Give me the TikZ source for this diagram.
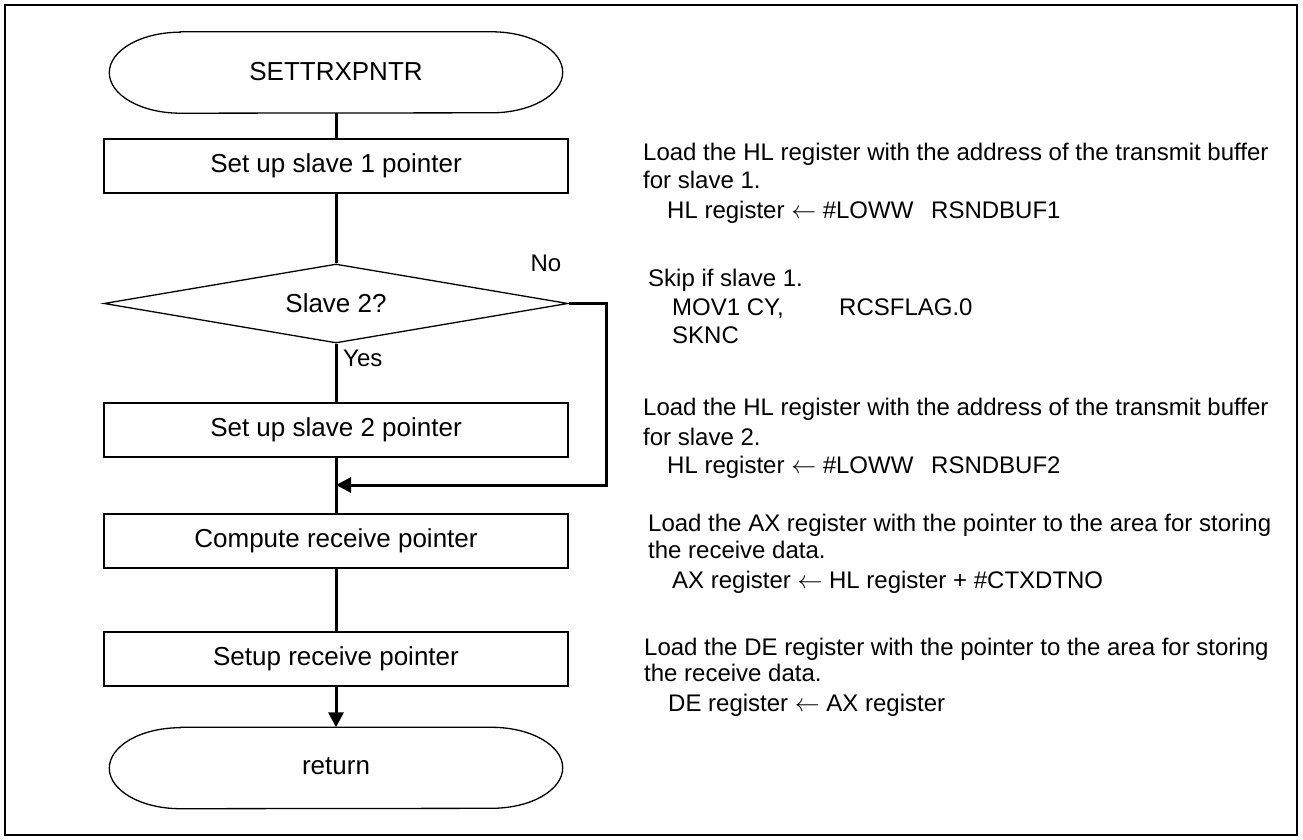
\documentclass[tikz,border=0pt]{standalone}
\usepackage{fontspec}
\setmainfont{Liberation Sans}
\usetikzlibrary{shapes.geometric,arrows.meta}
\newcommand{\termoutline}[1]{%
  \draw[line width=1.3pt] ([xshift=71pt]#1.north west) -- ([xshift=-71pt]#1.north east)
    arc[start angle=90, end angle=-90, x radius=71pt, y radius=40.5pt]
    -- ([xshift=71pt]#1.south west)
    arc[start angle=270, end angle=90, x radius=71pt, y radius=40.5pt] -- cycle;}
\begin{document}
\begin{tikzpicture}[x=1pt,y=-1pt,
  every node/.style={font=\fontsize{26pt}{30pt}\selectfont, inner sep=0pt},
  term/.style={rectangle, minimum width=453pt, minimum height=81pt},
  proc/.style={rectangle, draw, line width=1.3pt, minimum width=464pt, minimum height=54pt},
  dec/.style={diamond, aspect=5.87, draw, line width=1.3pt, minimum width=464pt, minimum height=79pt},
  conn/.style={line width=3pt},
  arr/.style={conn, -{Triangle[length=15pt,width=15pt]}},
  note/.style={anchor=base west, font=\fontsize{24pt}{28pt}\selectfont},
  lbl/.style={font=\fontsize{24pt}{28pt}\selectfont}
]
\useasboundingbox (0,0) rectangle (1303,840);
\draw[line width=1.6pt] (5,5) rectangle (1297,835);

\node[term] (start) at (336,72.5) {\raisebox{3pt}{SETTRXPNTR}};
\termoutline{start}
\node[proc] (p1) at (336,166) {Set up slave 1 pointer};
\node[dec]  (d)  at (336,303.5) {Slave 2?};
\node[proc] (p2) at (336,430) {Set up slave 2 pointer};
\node[proc] (p3) at (336,541) {Compute receive pointer};
\node[proc] (p4) at (336,659) {Setup receive pointer};
\node[term] (ret) at (336,768) {\raisebox{3pt}{return}};
\termoutline{ret}

\draw[conn] (start) -- (p1);
\draw[conn] (p1) -- (d);
\draw[conn] (d) -- (p2);
\draw[conn] (p2) -- (p3);
\draw[conn] (p3) -- (p4);
\draw[arr] (p4) -- (ret);
\coordinate (nocorner) at (606,303.5);
\coordinate (merge) at (336,485);
\draw[arr] (d.east) -- (nocorner) |- (merge);

\node[lbl, anchor=west] (yes) at (343,358) {Yes};
\node[lbl] (no) at (546,263) {No};

\node[note] (n1a) at (643,160) {Load the HL register with the address of the transmit buffer};
\node[note] (n1b) at (643,188) {for slave 1.};
\node[note] (n1c) at (667,218) {HL register $\leftarrow$ \#LOWW};
\node[note] (n1d) at (931,218) {RSNDBUF1};

\node[note] (n2a) at (648,286) {Skip if slave 1.};
\node[note] (n2b) at (672,315) {MOV1 CY,};
\node[note] (n2c) at (839,315) {RCSFLAG.0};
\node[note] (n2d) at (672,343) {SKNC};

\node[note] (n3a) at (643,415) {Load the HL register with the address of the transmit buffer};
\node[note] (n3b) at (643,445) {for slave 2.};
\node[note] (n3c) at (667,473) {HL register $\leftarrow$ \#LOWW};
\node[note] (n3d) at (931,473) {RSNDBUF2};

\node[note] (n4a) at (648,531) {Load the AX register with the pointer to the area for storing};
\node[note] (n4b) at (648,558) {the receive data.};
\node[note] (n4c) at (672,588) {AX register $\leftarrow$ HL register + \#CTXDTNO};

\node[note] (n5a) at (644,655) {Load the DE register with the pointer to the area for storing};
\node[note] (n5b) at (644,681) {the receive data.};
\node[note] (n5c) at (668,711) {DE register $\leftarrow$ AX register};
\end{tikzpicture}
\end{document}
